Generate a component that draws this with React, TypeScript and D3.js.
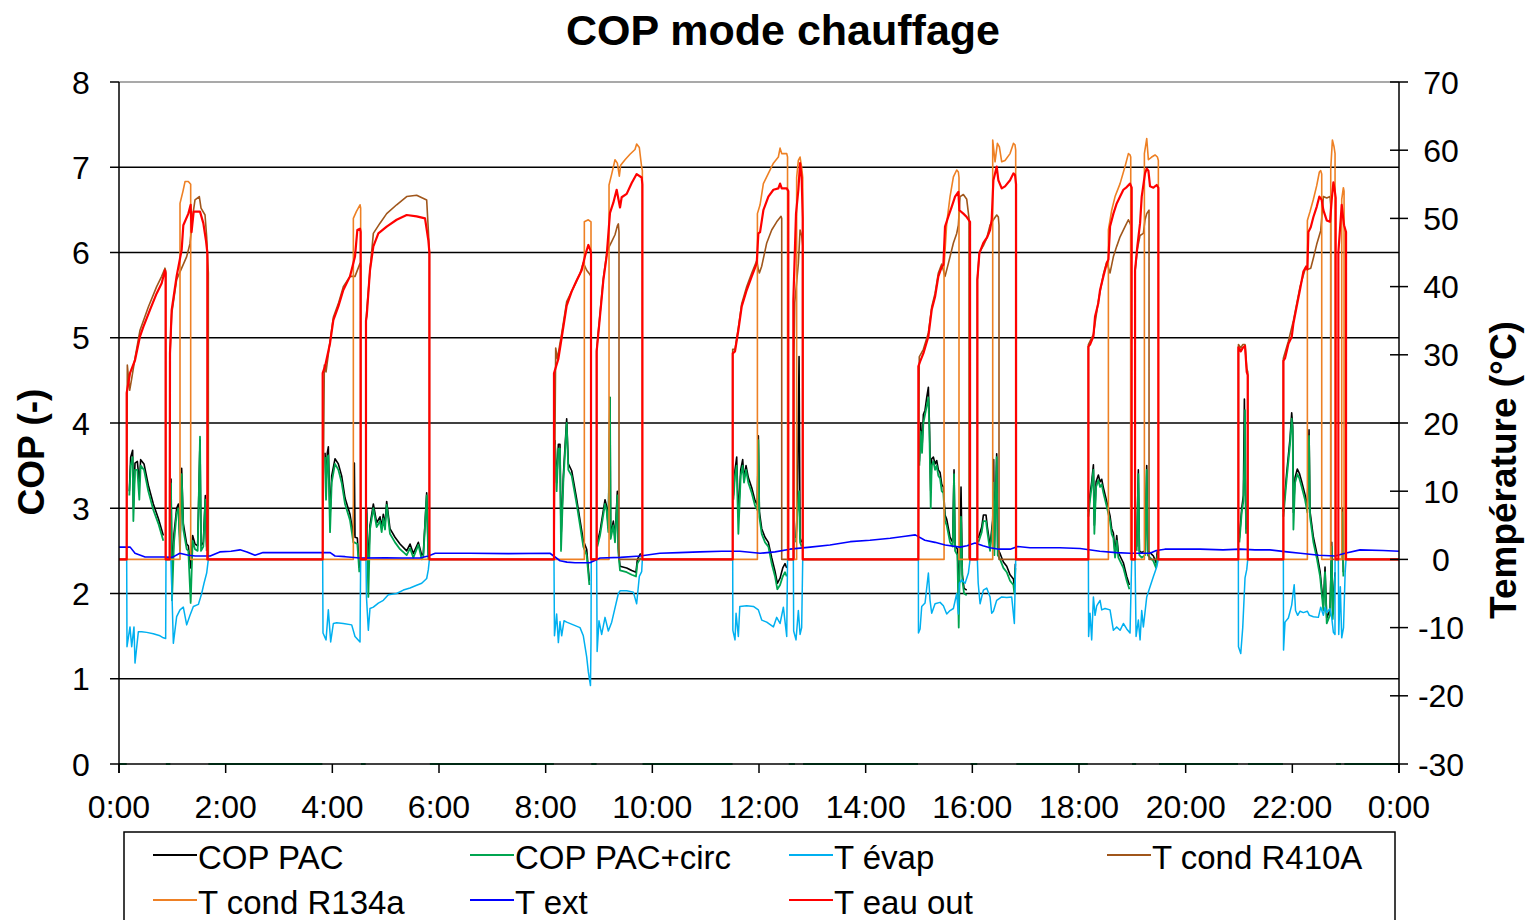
import React from 'react';
import * as d3 from 'd3';

type Pt = [number, number | null];

// Time of day in hours (0..24) paired with the measured value.
const X_TICK_HOURS = [0, 2, 4, 6, 8, 10, 12, 14, 16, 18, 20, 22, 24];
const X_TICK_LABELS = ['0:00', '2:00', '4:00', '6:00', '8:00', '10:00', '12:00', '14:00', '16:00', '18:00', '20:00', '22:00', '0:00'];
const COP_TICKS = [0, 1, 2, 3, 4, 5, 6, 7, 8];
const TEMP_TICKS = [-30, -20, -10, 0, 10, 20, 30, 40, 50, 60, 70];

const COP_PAC: Pt[] = [
  [0, 0], [0.14, 0], [0.14, null],
  [0.194, 3.2], [0.219, 3.6], [0.256, 3.68], [0.269, 3.0], [0.3, 3.53], [0.344, 3.55], [0.381, 3.3], [0.406, 3.57], [0.469, 3.52], [0.55, 3.27], [0.644, 3.05], [0.738, 2.88], [0.831, 2.68],
  [0.86, null], [0.88, 0], [0.96, 0], [0.96, null],
  [0.975, 3.35], [0.994, 2.2], [1.031, 2.7], [1.081, 3.0], [1.113, 3.05], [1.144, 2.6], [1.175, 3.47], [1.206, 2.82], [1.269, 2.58], [1.3, 2.56], [1.344, 2.3], [1.381, 2.68], [1.425, 2.58], [1.475, 2.56], [1.519, 3.8], [1.538, 2.56], [1.581, 2.6], [1.619, 3.15], [1.644, 2.55],
  [1.66, null], [1.68, 0], [3.81, 0], [3.81, null],
  [3.863, 3.65], [3.882, 3.3], [3.906, 3.65], [3.925, 3.72], [3.957, 2.9], [3.988, 3.38], [4.05, 3.58], [4.113, 3.52], [4.175, 3.38], [4.238, 3.12], [4.331, 2.93], [4.394, 2.68], [4.413, 3.53], [4.425, 2.66], [4.469, 2.65], [4.506, 2.3],
  [4.52, null], [4.54, 0], [4.62, 0], [4.62, null],
  [4.644, 3.0], [4.675, 2.3], [4.706, 2.8], [4.769, 3.05], [4.831, 2.83], [4.894, 2.9], [4.925, 2.78], [4.956, 2.93], [4.988, 2.8], [5.019, 3.08], [5.081, 2.76], [5.175, 2.66], [5.269, 2.58], [5.394, 2.5], [5.457, 2.58], [5.519, 2.47], [5.613, 2.6], [5.676, 2.45], [5.706, 2.47], [5.769, 3.18], [5.8, 2.45],
  [5.81, null], [5.83, 0], [8.15, 0], [8.15, null],
  [8.175, 3.8], [8.206, 3.3], [8.238, 3.75], [8.269, 3.75], [8.288, 2.65], [8.331, 3.38], [8.394, 4.05], [8.425, 3.52], [8.488, 3.44], [8.581, 3.11], [8.644, 2.86], [8.706, 2.62], [8.769, 2.52], [8.819, 2.15],
  [8.84, null], [8.86, 0], [8.95, 0], [8.95, null],
  [8.969, 2.6], [9.019, 2.73], [9.113, 3.1], [9.144, 3.02], [9.175, 2.77], [9.206, 4.3], [9.219, 2.69], [9.269, 2.85], [9.3, 2.65], [9.344, 3.2], [9.363, 2.53], [9.394, 2.32], [9.519, 2.3], [9.613, 2.27], [9.694, 2.25], [9.719, 2.4], [9.781, 2.47],
  [9.8, null], [9.82, 0], [11.5, 0], [11.5, null],
  [11.52, 3.15], [11.55, 3.45], [11.582, 3.6], [11.613, 2.9], [11.657, 3.45], [11.694, 3.57], [11.719, 3.35], [11.757, 3.5], [11.8, 3.36], [11.864, 3.24], [11.926, 3.09], [11.969, 3.04], [11.988, 3.85], [12.007, 2.96], [12.051, 2.76], [12.113, 2.66], [12.176, 2.6], [12.238, 2.42], [12.301, 2.26], [12.344, 2.12], [12.395, 2.18], [12.445, 2.3], [12.488, 2.35], [12.52, 2.3],
  [12.54, null], [12.56, 0], [12.67, 0], [12.67, null],
  [12.694, 2.65], [12.719, 3.0], [12.751, 4.78], [12.77, 2.65], [12.8, 2.6],
  [12.81, null], [12.83, 0], [14.98, 0], [14.98, null],
  [15.007, 3.55], [15.032, 4.0], [15.057, 3.7], [15.082, 4.1], [15.113, 4.15], [15.145, 4.3], [15.176, 4.42], [15.195, 4.0], [15.22, 3.2], [15.238, 3.58], [15.27, 3.6], [15.301, 3.52], [15.332, 3.56], [15.363, 3.45], [15.395, 3.42], [15.426, 3.28], [15.457, 3.25], [15.488, 2.92], [15.52, 2.87], [15.582, 2.66], [15.632, 2.6], [15.657, 3.45], [15.676, 2.56], [15.72, 2.52], [15.745, 2.0], [15.77, 2.56], [15.788, 3.25], [15.813, 2.22], [15.845, 2.06], [15.895, 2.04],
  [15.95, null], [15.97, 0], [16.09, 0], [16.09, null],
  [16.113, 2.65], [16.176, 2.78], [16.207, 2.92], [16.257, 2.92], [16.282, 2.78], [16.332, 2.56], [16.382, 2.86], [16.4, 3.57], [16.413, 2.52], [16.457, 3.64], [16.476, 2.52], [16.52, 2.47], [16.582, 2.37], [16.645, 2.32], [16.707, 2.22], [16.77, 2.17], [16.788, 2.08], [16.807, 2.35],
  [16.81, null], [16.83, 0], [18.16, 0], [18.16, null],
  [18.176, 2.96], [18.207, 3.16], [18.238, 3.31], [18.27, 3.51], [18.288, 2.8], [18.32, 3.31], [18.363, 3.39], [18.395, 3.31], [18.426, 3.34], [18.457, 3.24], [18.52, 3.08], [18.582, 2.91], [18.613, 2.76], [18.645, 2.71], [18.676, 2.48], [18.707, 2.68], [18.738, 2.48], [18.77, 2.44], [18.832, 2.36], [18.895, 2.2], [18.945, 2.1],
  [18.98, null], [19.0, 0], [19.07, 0], [19.07, null],
  [19.082, 2.55], [19.113, 3.45], [19.132, 2.5], [19.176, 2.48], [19.238, 2.5], [19.27, 3.5], [19.288, 2.5], [19.332, 2.48], [19.395, 2.44], [19.445, 2.36], [19.47, 2.5],
  [19.48, null], [19.5, 0], [20.98, 0], [20.98, null],
  [21.007, 2.65], [21.051, 3.0], [21.082, 3.15], [21.101, 4.28], [21.113, 3.5], [21.132, 2.75],
  [21.15, null], [21.17, 0], [21.82, 0], [21.82, null],
  [21.832, 2.96], [21.895, 3.42], [21.957, 3.82], [21.988, 4.12], [22.007, 3.96], [22.02, 2.95], [22.051, 3.36], [22.094, 3.46], [22.132, 3.41], [22.176, 3.31], [22.238, 3.16], [22.282, 3.01], [22.313, 3.92], [22.332, 2.96], [22.395, 2.66], [22.457, 2.48], [22.52, 2.26], [22.551, 2.06], [22.582, 1.86], [22.613, 2.31], [22.645, 1.71], [22.707, 1.81], [22.738, 2.6], [22.757, 1.76], [22.801, 2.25],
  [22.81, null], [22.82, 0], [22.91, 0], [22.91, null],
  [22.926, 2.45], [22.94, 3.0], [22.957, 2.25],
  [22.97, null], [22.98, 0], [24, 0],
];

const COP_PAC_CIRC: Pt[] = [
  [0, 0], [0.14, 0], [0.14, null],
  [0.194, 3.15], [0.219, 3.5], [0.256, 3.6], [0.269, 2.85], [0.3, 3.45], [0.344, 3.45], [0.381, 3.1], [0.406, 3.5], [0.469, 3.45], [0.55, 3.2], [0.644, 2.98], [0.738, 2.82], [0.831, 2.62],
  [0.86, null], [0.88, 0], [0.96, 0], [0.96, null],
  [0.975, 3.3], [0.994, 1.92], [1.031, 2.6], [1.081, 2.94], [1.113, 3.0], [1.144, 2.5], [1.175, 3.4], [1.206, 2.75], [1.269, 2.52], [1.3, 2.5], [1.344, 1.89], [1.381, 2.62], [1.425, 2.52], [1.475, 2.5], [1.519, 3.84], [1.538, 2.5], [1.581, 2.55], [1.619, 3.1], [1.644, 2.5],
  [1.66, null], [1.68, 0], [3.81, 0], [3.81, null],
  [3.863, 3.6], [3.882, 3.1], [3.906, 3.6], [3.925, 3.62], [3.957, 2.72], [3.988, 3.3], [4.05, 3.52], [4.113, 3.45], [4.175, 3.3], [4.238, 3.05], [4.331, 2.86], [4.394, 2.6], [4.413, 2.6], [4.469, 2.58], [4.506, 2.25],
  [4.52, null], [4.54, 0], [4.62, 0], [4.62, null],
  [4.644, 2.94], [4.675, 1.96], [4.706, 2.75], [4.769, 3.0], [4.831, 2.78], [4.894, 2.85], [4.925, 2.72], [4.956, 2.88], [4.988, 2.75], [5.019, 3.04], [5.081, 2.7], [5.175, 2.6], [5.269, 2.52], [5.394, 2.45], [5.457, 2.53], [5.519, 2.42], [5.613, 2.57], [5.676, 2.4], [5.706, 2.43], [5.769, 3.15], [5.8, 2.4],
  [5.81, null], [5.83, 0], [8.15, 0], [8.15, null],
  [8.175, 3.75], [8.206, 3.2], [8.238, 3.7], [8.269, 3.7], [8.288, 2.5], [8.331, 3.3], [8.394, 4.0], [8.425, 3.45], [8.488, 3.38], [8.581, 3.05], [8.644, 2.8], [8.706, 2.55], [8.769, 2.45], [8.819, 2.1],
  [8.84, null], [8.86, 0], [8.95, 0], [8.95, null],
  [8.969, 2.55], [9.019, 2.68], [9.113, 3.05], [9.144, 2.97], [9.175, 2.72], [9.206, 4.3], [9.219, 2.64], [9.269, 2.8], [9.3, 2.6], [9.344, 3.15], [9.363, 2.48], [9.394, 2.27], [9.519, 2.25], [9.613, 2.22], [9.694, 2.2], [9.719, 2.35], [9.781, 2.42],
  [9.8, null], [9.82, 0], [11.5, 0], [11.5, null],
  [11.52, 3.1], [11.55, 3.38], [11.582, 3.5], [11.613, 2.7], [11.657, 3.38], [11.694, 3.5], [11.719, 3.3], [11.757, 3.45], [11.8, 3.3], [11.864, 3.18], [11.926, 3.03], [11.969, 2.98], [11.988, 3.8], [12.007, 2.9], [12.051, 2.7], [12.113, 2.6], [12.176, 2.55], [12.238, 2.35], [12.301, 2.2], [12.344, 2.05], [12.395, 2.1], [12.445, 2.2], [12.488, 2.25], [12.52, 2.2],
  [12.54, null], [12.56, 0], [12.67, 0], [12.67, null],
  [12.694, 2.6], [12.719, 2.95], [12.751, 3.2], [12.77, 2.6], [12.8, 2.55],
  [12.81, null], [12.83, 0], [14.98, 0], [14.98, null],
  [15.007, 3.5], [15.032, 3.9], [15.057, 3.65], [15.082, 4.0], [15.113, 4.1], [15.145, 4.2], [15.176, 4.3], [15.195, 3.9], [15.22, 3.0], [15.238, 3.5], [15.27, 3.55], [15.301, 3.45], [15.332, 3.5], [15.363, 3.38], [15.395, 3.35], [15.426, 3.2], [15.457, 3.18], [15.488, 2.85], [15.52, 2.8], [15.582, 2.6], [15.632, 2.55], [15.657, 3.4], [15.676, 2.5], [15.72, 2.45], [15.745, 1.6], [15.77, 2.5], [15.788, 2.9], [15.813, 2.15], [15.845, 2.0], [15.895, 1.98],
  [15.95, null], [15.97, 0], [16.09, 0], [16.09, null],
  [16.113, 2.6], [16.176, 2.72], [16.207, 2.85], [16.257, 2.85], [16.282, 2.72], [16.332, 2.5], [16.382, 2.8], [16.4, 3.3], [16.413, 2.45], [16.457, 3.6], [16.476, 2.45], [16.52, 2.4], [16.582, 2.3], [16.645, 2.25], [16.707, 2.15], [16.77, 2.1], [16.788, 2.0], [16.807, 2.3],
  [16.81, null], [16.83, 0], [18.16, 0], [18.16, null],
  [18.176, 2.9], [18.207, 3.1], [18.238, 3.25], [18.27, 3.45], [18.288, 2.7], [18.32, 3.25], [18.363, 3.33], [18.395, 3.25], [18.426, 3.28], [18.457, 3.18], [18.52, 3.02], [18.582, 2.85], [18.613, 2.7], [18.645, 2.65], [18.676, 2.42], [18.707, 2.62], [18.738, 2.42], [18.77, 2.38], [18.832, 2.3], [18.895, 2.15], [18.945, 2.05],
  [18.98, null], [19.0, 0], [19.07, 0], [19.07, null],
  [19.082, 2.5], [19.113, 3.4], [19.132, 2.45], [19.176, 2.42], [19.238, 2.45], [19.27, 3.45], [19.288, 2.45], [19.332, 2.42], [19.395, 2.38], [19.445, 2.3], [19.47, 2.45],
  [19.48, null], [19.5, 0], [20.98, 0], [20.98, null],
  [21.007, 2.6], [21.051, 2.95], [21.082, 3.08], [21.101, 3.6], [21.113, 4.15], [21.132, 2.7],
  [21.15, null], [21.17, 0], [21.82, 0], [21.82, null],
  [21.832, 2.9], [21.895, 3.35], [21.957, 3.75], [21.988, 4.05], [22.007, 3.9], [22.02, 2.75], [22.051, 3.3], [22.094, 3.4], [22.132, 3.35], [22.176, 3.25], [22.238, 3.1], [22.282, 2.95], [22.313, 3.85], [22.332, 2.9], [22.395, 2.6], [22.457, 2.42], [22.52, 2.2], [22.551, 2.0], [22.582, 1.8], [22.613, 2.25], [22.645, 1.65], [22.707, 1.75], [22.738, 2.55], [22.757, 1.7], [22.801, 2.2],
  [22.81, null], [22.82, 0], [22.91, 0], [22.91, null],
  [22.926, 2.4], [22.94, 2.95], [22.957, 2.2],
  [22.97, null], [22.98, 0], [24, 0],
];

const T_EVAP: Pt[] = [
  [0, 0], [0.144, 0], [0.15, -12.8], [0.206, -9.9], [0.238, -12.8], [0.281, -9.9], [0.3, -15.2], [0.363, -10.6], [0.425, -10.6], [0.519, -10.7], [0.644, -10.9], [0.769, -11.2], [0.831, -11.5], [0.875, -11.6], [0.881, 0],
  [0.975, 0], [1.019, -12.3], [1.081, -8.4], [1.144, -7.4], [1.206, -7.0], [1.269, -9.6], [1.331, -8.2], [1.394, -6.9], [1.488, -6.6], [1.55, -5.0], [1.594, -3.5], [1.644, -2.0], [1.675, 0],
  [3.819, 0], [3.825, -10.8], [3.882, -11.8], [3.925, -7.4], [3.969, -12.1], [4.019, -9.4], [4.082, -9.3], [4.206, -9.4], [4.363, -9.6], [4.425, -11.3], [4.519, -12.1], [4.531, 0],
  [4.631, 0], [4.64, -5.5], [4.675, -10.4], [4.706, -7.2], [4.769, -7.0], [4.863, -6.4], [4.956, -6.0], [5.05, -5.2], [5.206, -5.0], [5.331, -4.5], [5.457, -4.2], [5.581, -3.8], [5.676, -3.5], [5.769, -2.8], [5.8, -1.5], [5.82, 0],
  [8.156, 0], [8.165, -11.2], [8.206, -8.0], [8.238, -12.2], [8.269, -9.1], [8.3, -11.2], [8.344, -9.0], [8.394, -9.2], [8.519, -9.6], [8.644, -10.0], [8.706, -11.2], [8.769, -14.3], [8.8, -16.5], [8.84, -18.5], [8.85, -12], [8.855, 0],
  [8.956, 0], [8.965, -13.5], [9.0, -9.0], [9.05, -11.0], [9.113, -8.5], [9.175, -10.5], [9.238, -9.2], [9.363, -5.0], [9.394, -4.6], [9.519, -4.6], [9.644, -4.8], [9.706, -6.5], [9.756, -2.5], [9.8, -1.8], [9.813, 0],
  [11.507, 0], [11.51, -10.4], [11.55, -11.8], [11.57, -7.9], [11.613, -11.3], [11.64, -6.9], [11.77, -6.8], [11.895, -6.9], [11.988, -7.4], [12.051, -8.9], [12.145, -9.2], [12.27, -9.9], [12.332, -8.5], [12.395, -9.4], [12.457, -7.0], [12.52, -11.3], [12.535, 0],
  [12.644, 0], [12.65, -10.5], [12.694, -11.8], [12.738, -7.5], [12.77, -11.0], [12.8, -10.0], [12.82, 0],
  [14.988, 0], [14.99, -10.8], [15.02, -10.2], [15.051, -6.9], [15.113, -6.4], [15.176, -2.0], [15.207, -6.0], [15.238, -7.9], [15.301, -6.5], [15.395, -6.3], [15.457, -6.8], [15.52, -8.0], [15.582, -7.5], [15.645, -7.2], [15.707, -5.0], [15.738, -8.0], [15.757, -3.5], [15.801, -3.0], [15.864, -3.5], [15.926, -2.0], [15.957, 0],
  [16.094, 0], [16.11, -3.5], [16.145, -6.5], [16.207, -4.5], [16.27, -4.2], [16.332, -5.5], [16.363, -7.9], [16.395, -7.6], [16.457, -6.0], [16.551, -5.5], [16.645, -5.6], [16.738, -5.5], [16.788, -9.4], [16.813, 0],
  [18.176, 0], [18.18, -11.3], [18.207, -7.9], [18.238, -11.8], [18.27, -5.5], [18.301, -8.2], [18.332, -6.8], [18.395, -6.0], [18.426, -7.4], [18.488, -7.2], [18.582, -7.4], [18.645, -10.4], [18.707, -9.9], [18.77, -10.4], [18.832, -9.4], [18.895, -10.2], [18.957, -10.8], [18.988, 0],
  [19.051, 0], [19.07, -11.3], [19.113, -8.9], [19.145, -11.8], [19.176, -7.5], [19.207, -9.9], [19.27, -5.5], [19.332, -4.0], [19.395, -2.5], [19.457, -1.1], [19.488, 0],
  [20.988, 0], [20.99, -12.8], [21.033, -13.8], [21.07, -10.0], [21.113, -2.7], [21.145, -1.5], [21.164, 0],
  [21.832, 0], [21.835, -13.3], [21.863, -9.2], [21.926, -8.6], [21.988, -6.7], [22.035, -3.7], [22.06, -7.5], [22.1, -8.2], [22.145, -7.6], [22.207, -7.8], [22.282, -7.6], [22.32, -8.2], [22.395, -8.4], [22.488, -8.5], [22.532, -7.0], [22.582, -8.2], [22.614, -7.0], [22.645, -7.8], [22.707, -7.2], [22.738, -8.5], [22.77, -10.7], [22.8, -11.0], [22.801, 0],
  [22.863, 0], [22.87, -11.0], [22.9, -4.0], [22.926, -11.5], [22.96, -10.0], [22.99, -2.0], [23.007, 0], [24, 0],
];

const T_COND_R410A: Pt[] = [
  [0, 0], [0.144, 0], [0.156, 28.5], [0.2, 24.8], [0.238, 26.5], [0.3, 29.5], [0.394, 33.6], [0.55, 37.0], [0.706, 40.0], [0.8, 41.5], [0.862, 42.7], [0.875, 42.3], [0.875, 0],
  [0.95, 0], [0.956, 30.0], [0.988, 36.0], [1.08, 41.0], [1.175, 42.7], [1.269, 44.4], [1.331, 46.3], [1.381, 50.3], [1.425, 52.7], [1.506, 53.2], [1.538, 51.5], [1.613, 50.5], [1.644, 47.3], [1.675, 42.0], [1.675, 0],
  [3.819, 0], [3.85, 28.5], [3.882, 27.5], [3.957, 32.0], [4.019, 35.5], [4.113, 37.5], [4.206, 40.0], [4.331, 41.5], [4.425, 41.5], [4.519, 43.4], [4.531, 43.0], [4.531, 0],
  [4.631, 0], [4.631, 35.0], [4.706, 42.4], [4.769, 47.8], [4.894, 49.3], [5.019, 50.7], [5.206, 52.0], [5.394, 53.2], [5.581, 53.4], [5.769, 52.7], [5.8, 48.3], [5.82, 45.0], [5.82, 0],
  [8.156, 0], [8.188, 31.0], [8.219, 29.4], [8.3, 33.1], [8.394, 37.8], [8.519, 39.8], [8.644, 41.9], [8.706, 43.5], [8.769, 42.4], [8.819, 41.9], [8.85, 41.5], [8.85, 0],
  [8.956, 0], [8.956, 30.8], [9.019, 36.0], [9.081, 41.2], [9.144, 44.8], [9.175, 45.6], [9.238, 46.6], [9.3, 47.6], [9.344, 48.9], [9.363, 49.2], [9.375, 48.0], [9.375, 0],
  [11.507, 0], [11.507, 30.8], [11.55, 30.8], [11.613, 34.0], [11.676, 37.5], [11.77, 40.0], [11.864, 42.0], [11.957, 43.8], [11.988, 42.5], [12.007, 42.0], [12.051, 43.0], [12.145, 46.4], [12.238, 48.3], [12.332, 49.5], [12.413, 50.3], [12.426, 50.0], [12.426, 0],
  [12.656, 0], [12.656, 30.0], [12.67, 37.6], [12.738, 43.4], [12.77, 48.3], [12.8, 47.5], [12.82, 46.0], [12.82, 0],
  [14.988, 0], [15.005, 29.7], [15.082, 30.8], [15.176, 33.2], [15.238, 37.0], [15.301, 39.0], [15.363, 42.0], [15.426, 43.3], [15.488, 41.5], [15.551, 43.4], [15.645, 46.4], [15.707, 47.8], [15.738, 49.0], [15.77, 53.2], [15.832, 53.5], [15.895, 52.8], [15.938, 50.0], [15.938, 0],
  [16.094, 0], [16.094, 41.0], [16.132, 45.0], [16.207, 46.0], [16.27, 47.1], [16.332, 49.0], [16.395, 49.8], [16.457, 50.5], [16.488, 50.2], [16.5, 49.0], [16.5, 0],
  [18.176, 0], [18.176, 31.5], [18.27, 33.0], [18.363, 37.9], [18.457, 41.8], [18.52, 43.6], [18.582, 42.0], [18.645, 44.4], [18.707, 45.9], [18.77, 47.3], [18.863, 48.8], [18.926, 49.8], [18.957, 49.3], [18.97, 49.0], [18.97, 0],
  [19.051, 0], [19.051, 42.2], [19.094, 45.5], [19.145, 47.5], [19.207, 47.8], [19.238, 49.8], [19.27, 50.7], [19.313, 51.2], [19.313, 0],
  [20.988, 0], [20.99, 31.5], [21.033, 31.0], [21.07, 31.5], [21.113, 31.5], [21.145, 28.0], [21.164, 27.5], [21.164, 0],
  [21.832, 0], [21.832, 29.5], [21.926, 32.0], [22.02, 35.0], [22.145, 40.0], [22.257, 43.0], [22.282, 42.5], [22.345, 42.7], [22.395, 44.2], [22.457, 46.2], [22.532, 48.2], [22.551, 50.0], [22.582, 53.2], [22.645, 53.0], [22.707, 53.2], [22.72, 52.0], [22.72, 0], [24, 0],
];

const T_COND_R134A: Pt[] = [
  [0, 0], [1.144, 0], [1.144, 52.2], [1.2, 54.0], [1.238, 55.4], [1.3, 55.4], [1.344, 55.0], [1.344, 0],
  [4.394, 0], [4.394, 50.0], [4.45, 51.0], [4.519, 52.0], [4.531, 51.5], [4.531, 0],
  [8.725, 0], [8.725, 49.5], [8.8, 49.8], [8.85, 49.5], [8.85, 0],
  [9.188, 0], [9.188, 54.9], [9.238, 56.5], [9.3, 58.6], [9.344, 58.1], [9.381, 56.2], [9.406, 57.8], [9.488, 58.6], [9.581, 59.4], [9.675, 60.1], [9.706, 60.9], [9.756, 60.4], [9.8, 57.5], [9.813, 57.0], [9.813, 0],
  [11.97, 0], [11.97, 50.7], [12.02, 52.0], [12.082, 55.1], [12.176, 56.6], [12.27, 58.1], [12.363, 59.0], [12.395, 60.3], [12.426, 59.5], [12.52, 59.5], [12.535, 59.0], [12.535, 0],
  [12.706, 0], [12.706, 56.0], [12.738, 58.5], [12.77, 59.0], [12.8, 57.5], [12.82, 56.0], [12.82, 0],
  [15.47, 0], [15.47, 42.9], [15.52, 49.3], [15.582, 53.2], [15.645, 56.1], [15.707, 57.1], [15.738, 56.8], [15.75, 56.0], [15.75, 0],
  [16.382, 0], [16.382, 61.5], [16.426, 58.3], [16.47, 61.0], [16.507, 60.5], [16.551, 58.3], [16.613, 58.5], [16.707, 59.5], [16.77, 61.0], [16.8, 60.8], [16.813, 60.0], [16.813, 0],
  [18.551, 0], [18.551, 48.3], [18.613, 51.2], [18.676, 53.2], [18.77, 55.1], [18.863, 57.6], [18.926, 59.5], [18.957, 59.3], [18.97, 59.0], [18.97, 0],
  [19.226, 0], [19.226, 59.5], [19.27, 61.7], [19.301, 58.6], [19.363, 59.0], [19.426, 59.3], [19.47, 59.0], [19.488, 58.5], [19.488, 0],
  [22.282, 0], [22.282, 49.7], [22.332, 51.0], [22.395, 52.8], [22.457, 54.8], [22.507, 56.8], [22.532, 57.0], [22.551, 56.5], [22.551, 0],
  [22.72, 0], [22.72, 57.3], [22.751, 61.5], [22.782, 60.5], [22.801, 59.5], [22.801, 0],
  [22.926, 0], [22.926, 52.8], [22.957, 54.5], [22.97, 54.0], [22.97, 0], [24, 0],
];

const T_EXT: Pt[] = [
  [0, 1.8], [0.21, 1.8], [0.3, 0.9], [0.49, 0.35], [0.86, 0.35], [1.0, 0.3], [1.14, 0.9], [1.3, 0.6], [1.43, 0.5], [1.71, 0.5], [1.89, 1.1], [2.1, 1.2], [2.27, 1.4], [2.4, 1.1], [2.55, 0.6],
  [2.7, 1.0], [2.83, 1.0], [3.4, 1.0], [3.96, 1.0], [4.05, 0.5], [4.24, 0.4], [4.52, 0.2], [5.0, 0.25], [5.3, 0.2], [5.64, 0.2], [5.8, 0.5], [5.93, 0.9], [6.58, 0.9], [7.3, 0.85],
  [8.08, 0.9], [8.27, -0.2], [8.4, -0.4], [8.55, -0.5], [8.83, -0.5], [9.02, 0.2], [9.4, 0.3], [9.77, 0.5], [10.14, 0.9], [10.5, 1.0], [10.89, 1.1], [11.3, 1.2], [11.64, 1.2],
  [12.02, 0.9], [12.3, 1.1], [12.58, 1.5], [12.96, 1.8], [13.33, 2.1], [13.71, 2.6], [14.08, 2.8], [14.46, 3.1], [14.74, 3.4], [14.93, 3.6], [15.11, 2.8], [15.3, 2.5], [15.49, 2.1],
  [15.77, 1.8], [15.9, 2.0], [16.05, 2.4], [16.2, 2.0], [16.33, 1.7], [16.5, 1.5], [16.71, 1.5], [16.85, 1.9], [17.08, 1.7], [17.64, 1.7], [18.02, 1.6], [18.39, 1.2],
  [18.7, 1.0], [18.96, 0.9], [19.33, 0.9], [19.45, 1.3], [19.61, 1.5], [20.27, 1.5], [20.7, 1.4], [21.02, 1.5], [21.3, 1.4], [21.58, 1.4], [21.9, 1.1], [22.15, 0.9],
  [22.5, 0.6], [22.8, 0.5], [22.99, 0.9], [23.27, 1.4], [23.7, 1.3], [24, 1.2],
];

const T_EAU_OUT: Pt[] = [
  [0, 0], [0.144, 0], [0.144, 24.4], [0.206, 27.3], [0.3, 29.2], [0.394, 32.7], [0.456, 34.1], [0.581, 36.6], [0.706, 39.0], [0.8, 40.5], [0.862, 42.4], [0.875, 42.0], [0.875, 0],
  [0.95, 0], [0.956, 30.2], [0.988, 36.6], [1.08, 41.5], [1.175, 45.4], [1.206, 49.0], [1.3, 50.7], [1.344, 52.0], [1.36, 48.0], [1.4, 51.0], [1.519, 51.0], [1.581, 49.3], [1.63, 46.8], [1.656, 45.0], [1.656, 0],
  [3.819, 0], [3.819, 27.3], [3.863, 28.3], [3.957, 31.7], [4.019, 35.1], [4.113, 37.1], [4.206, 39.5], [4.331, 41.5], [4.425, 44.4], [4.469, 48.3], [4.519, 48.5], [4.531, 48.0], [4.531, 0],
  [4.631, 0], [4.631, 35.0], [4.644, 35.6], [4.706, 42.4], [4.769, 45.9], [4.863, 47.8], [5.019, 48.8], [5.206, 49.8], [5.394, 50.5], [5.581, 50.3], [5.738, 50.0], [5.8, 46.8], [5.82, 45.0], [5.82, 0],
  [8.156, 0], [8.156, 27.3], [8.238, 29.4], [8.3, 32.5], [8.394, 37.2], [8.488, 39.3], [8.581, 40.9], [8.675, 42.4], [8.738, 44.5], [8.8, 46.1], [8.831, 45.5], [8.85, 45.0], [8.85, 0],
  [8.956, 0], [8.956, 30.5], [9.019, 35.7], [9.081, 40.9], [9.144, 44.5], [9.206, 50.8], [9.269, 52.3], [9.331, 54.2], [9.394, 51.6], [9.425, 53.1], [9.519, 53.6], [9.613, 55.2], [9.706, 56.5], [9.8, 56.0], [9.813, 55.0], [9.813, 0],
  [11.507, 0], [11.507, 30.2], [11.55, 30.5], [11.613, 33.6], [11.676, 37.1], [11.77, 39.5], [11.864, 41.5], [11.957, 43.4], [11.988, 47.8], [12.02, 48.0], [12.082, 51.2], [12.176, 53.2], [12.27, 54.2], [12.363, 54.4], [12.395, 55.1], [12.426, 54.4], [12.52, 54.4], [12.55, 54.0], [12.55, 0],
  [12.644, 0], [12.644, 38.0], [12.694, 50.7], [12.738, 54.2], [12.77, 58.1], [12.8, 56.0], [12.82, 50.0], [12.82, 0],
  [14.988, 0], [14.988, 28.3], [15.02, 29.0], [15.082, 30.2], [15.176, 32.7], [15.238, 36.6], [15.301, 38.5], [15.363, 41.5], [15.426, 42.9], [15.457, 43.2], [15.488, 48.8], [15.551, 50.3], [15.613, 51.7], [15.676, 53.2], [15.738, 53.9], [15.757, 51.2], [15.832, 50.7], [15.895, 50.2], [15.957, 49.5], [15.957, 0],
  [16.094, 0], [16.094, 41.0], [16.132, 44.9], [16.207, 46.4], [16.282, 47.3], [16.332, 48.3], [16.363, 49.8], [16.395, 55.6], [16.426, 56.6], [16.457, 57.6], [16.488, 55.6], [16.551, 54.4], [16.613, 54.7], [16.707, 55.6], [16.77, 56.6], [16.8, 56.4], [16.82, 55.0], [16.82, 0],
  [18.176, 0], [18.176, 31.2], [18.207, 31.5], [18.27, 32.7], [18.301, 35.6], [18.363, 37.6], [18.395, 39.5], [18.457, 41.5], [18.52, 43.4], [18.551, 44.0], [18.582, 48.8], [18.645, 50.7], [18.707, 52.2], [18.77, 53.2], [18.832, 54.2], [18.895, 54.6], [18.957, 55.1], [18.988, 54.5], [18.988, 0],
  [19.051, 0], [19.051, 42.4], [19.094, 45.9], [19.145, 49.3], [19.176, 53.2], [19.238, 56.6], [19.27, 57.3], [19.301, 57.0], [19.332, 54.7], [19.395, 54.5], [19.457, 54.9], [19.488, 54.5], [19.488, 0],
  [20.988, 0], [20.988, 31.1], [21.033, 30.5], [21.07, 31.0], [21.113, 31.3], [21.145, 27.5], [21.164, 27.0], [21.164, 0],
  [21.832, 0], [21.832, 29.1], [21.863, 29.5], [21.926, 31.6], [21.988, 32.6], [22.02, 34.6], [22.082, 37.1], [22.145, 39.6], [22.207, 42.2], [22.257, 42.9], [22.282, 42.5], [22.301, 48.0], [22.345, 48.7], [22.395, 50.2], [22.457, 51.7], [22.507, 53.2], [22.551, 52.7], [22.582, 51.2], [22.645, 49.7], [22.707, 49.5], [22.738, 52.7], [22.77, 55.3], [22.788, 54.5], [22.813, 53.0], [22.813, 0],
  [22.863, 0], [22.863, 45.0], [22.926, 52.0], [22.957, 49.8], [22.97, 49.0], [23.007, 48.0], [23.007, 0], [24, 0],
];

type Series = { name: string; data: Pt[]; axis: 'cop' | 'temp'; color: string; width: number };

// Drawing order: later series sit on top.
const SERIES: Series[] = [
  { name: 'COP PAC', data: COP_PAC, axis: 'cop', color: '#000000', width: 1.6 },
  { name: 'COP PAC+circ', data: COP_PAC_CIRC, axis: 'cop', color: '#00a550', width: 1.8 },
  { name: 'T évap', data: T_EVAP, axis: 'temp', color: '#00b0f0', width: 1.5 },
  { name: 'T cond R410A', data: T_COND_R410A, axis: 'temp', color: '#a0561b', width: 1.6 },
  { name: 'T cond R134a', data: T_COND_R134A, axis: 'temp', color: '#ee8024', width: 1.6 },
  { name: 'T ext', data: T_EXT, axis: 'temp', color: '#0000ff', width: 1.6 },
  { name: 'T eau out', data: T_EAU_OUT, axis: 'temp', color: '#ff0000', width: 2.2 },
];

const LEGEND_ORDER = [
  ['COP PAC', 'COP PAC+circ', 'T évap', 'T cond R410A'],
  ['T cond R134a', 'T ext', 'T eau out'],
];

const W = 1528;
const H = 920;
const PLOT = { left: 119, right: 1399, top: 82, bottom: 764 };
const FONT = '"Liberation Sans", Arial, sans-serif';

export default function App() {
  const x = d3.scaleLinear().domain([0, 24]).range([PLOT.left, PLOT.right]);
  const yCop = d3.scaleLinear().domain([0, 8]).range([PLOT.bottom, PLOT.top]);
  const yTemp = d3.scaleLinear().domain([-30, 70]).range([PLOT.bottom, PLOT.top]);

  const pathFor = (s: Series) => {
    const y = s.axis === 'cop' ? yCop : yTemp;
    return d3
      .line<Pt>()
      .defined((d) => d[1] !== null)
      .x((d) => x(d[0]))
      .y((d) => y(d[1] as number))(s.data) || '';
  };

  const colorOf = (name: string) => SERIES.find((s) => s.name === name)!.color;
  const legendCols = [153, 470, 789, 1107];
  const legendRows = [855, 900];

  return (
    <svg width={W} height={H} style={{ position: 'absolute', left: 0, top: 0, background: '#fff' }} fontFamily={FONT}>
      <rect x={0} y={0} width={W} height={H} fill="#fff" />
      <text x={783} y={45} textAnchor="middle" fontSize={43} fontWeight="bold">COP mode chauffage</text>

      {/* horizontal gridlines on the COP scale */}
      {COP_TICKS.filter((t) => t > 0 && t < 8).map((t) => (
        <line key={'g' + t} x1={PLOT.left} x2={PLOT.right} y1={yCop(t)} y2={yCop(t)} stroke="#000" strokeWidth={1.4} />
      ))}
      <line x1={PLOT.left} x2={PLOT.right} y1={yCop(8)} y2={yCop(8)} stroke="#8c8c8c" strokeWidth={1.4} />

      {/* data */}
      <g>
        {SERIES.map((s) => (
          <path key={s.name} d={pathFor(s)} fill="none" stroke={s.color} strokeWidth={s.width} strokeLinejoin="round" />
        ))}
      </g>

      {/* left axis */}
      <line x1={PLOT.left} x2={PLOT.left} y1={PLOT.top} y2={PLOT.bottom + 9} stroke="#000" strokeWidth={1.5} />
      {COP_TICKS.map((t) => (
        <g key={'c' + t}>
          <line x1={PLOT.left - 9} x2={PLOT.left} y1={yCop(t)} y2={yCop(t)} stroke="#000" strokeWidth={1.5} />
          <text x={81} y={yCop(t) + 11.5} textAnchor="middle" fontSize={32}>{t}</text>
        </g>
      ))}

      {/* right axis */}
      <line x1={PLOT.right} x2={PLOT.right} y1={PLOT.top} y2={PLOT.bottom + 9} stroke="#000" strokeWidth={1.5} />
      {TEMP_TICKS.map((t) => (
        <g key={'t' + t}>
          <line x1={PLOT.right - 9} x2={PLOT.right + 9} y1={yTemp(t)} y2={yTemp(t)} stroke="#000" strokeWidth={1.5} />
          <text x={1441} y={yTemp(t) + 11.5} textAnchor="middle" fontSize={32}>{t}</text>
        </g>
      ))}

      {/* time axis */}
      <line x1={PLOT.left} x2={PLOT.right} y1={PLOT.bottom} y2={PLOT.bottom} stroke="#000" strokeWidth={1.5} />
      {X_TICK_HOURS.map((h, i) => (
        <g key={'x' + i}>
          <line x1={x(h)} x2={x(h)} y1={PLOT.bottom} y2={PLOT.bottom + 9} stroke="#000" strokeWidth={1.5} />
          <text x={x(h)} y={818} textAnchor="middle" fontSize={32}>{X_TICK_LABELS[i]}</text>
        </g>
      ))}

      {/* axis titles */}
      <text transform="translate(44,452) rotate(-90)" textAnchor="middle" fontSize={37} fontWeight="bold">COP (-)</text>
      <text transform="translate(1516,470) rotate(-90)" textAnchor="middle" fontSize={37} fontWeight="bold">Température (°C)</text>

      {/* legend */}
      <rect x={124} y={832} width={1271} height={100} fill="#fff" stroke="#000" strokeWidth={1.5} />
      {LEGEND_ORDER.map((row, r) =>
        row.map((name, c) => (
          <g key={name}>
            <line x1={legendCols[c]} x2={legendCols[c] + 44} y1={legendRows[r]} y2={legendRows[r]} stroke={colorOf(name)} strokeWidth={2} />
            <text x={legendCols[c] + 45} y={legendRows[r] + 14} fontSize={33}>{name}</text>
          </g>
        ))
      )}
    </svg>
  );
}
